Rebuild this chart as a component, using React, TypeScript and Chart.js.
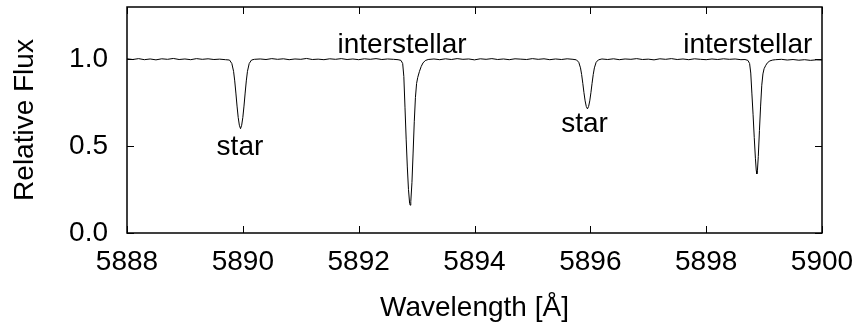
import React, { useEffect, useRef } from "react";
import { Chart, registerables } from "chart.js";

Chart.register(...registerables);

// Wavelength (Å) and relative flux
const wavelengths: number[] = [
  5888.0, 5888.1, 5888.2, 5888.3, 5888.4, 5888.5, 5888.6, 5888.7, 5888.8, 5888.9,
  5889.0, 5889.1, 5889.2, 5889.3, 5889.4, 5889.5, 5889.6, 5889.7,
  // star line 1
  5889.77, 5889.81, 5889.84, 5889.86, 5889.88, 5889.9, 5889.92, 5889.94, 5889.96,
  5889.98, 5890.0, 5890.02, 5890.04, 5890.06, 5890.08, 5890.11, 5890.15,
  5890.2, 5890.3, 5890.4, 5890.5, 5890.6, 5890.7, 5890.8, 5890.9, 5891.0,
  5891.1, 5891.2, 5891.3, 5891.4, 5891.5, 5891.6, 5891.7, 5891.8, 5891.9, 5892.0,
  5892.1, 5892.2, 5892.3, 5892.4, 5892.5, 5892.6, 5892.68,
  // interstellar line 1
  5892.73, 5892.76, 5892.78, 5892.8, 5892.82, 5892.84, 5892.86, 5892.88, 5892.89,
  5892.9, 5892.92, 5892.94, 5892.96, 5892.98, 5893.0, 5893.02, 5893.05, 5893.08,
  5893.11, 5893.15, 5893.2,
  5893.3, 5893.4, 5893.5, 5893.6, 5893.7, 5893.8, 5893.9, 5894.0, 5894.1, 5894.2,
  5894.3, 5894.4, 5894.5, 5894.6, 5894.7, 5894.8, 5894.9, 5895.0, 5895.1, 5895.2,
  5895.3, 5895.4, 5895.5, 5895.6, 5895.7,
  // star line 2
  5895.76, 5895.8, 5895.83, 5895.85, 5895.87, 5895.89, 5895.91, 5895.93, 5895.95,
  5895.97, 5895.99, 5896.01, 5896.03, 5896.05, 5896.07, 5896.1, 5896.14,
  5896.2, 5896.3, 5896.4, 5896.5, 5896.6, 5896.7, 5896.8, 5896.9, 5897.0, 5897.1,
  5897.2, 5897.3, 5897.4, 5897.5, 5897.6, 5897.7, 5897.8, 5897.9, 5898.0, 5898.1,
  5898.2, 5898.3, 5898.4, 5898.5, 5898.6, 5898.67,
  // interstellar line 2
  5898.72, 5898.75, 5898.77, 5898.79, 5898.81, 5898.83, 5898.85, 5898.865, 5898.875,
  5898.885, 5898.9, 5898.92, 5898.94, 5898.96, 5898.98, 5899.0, 5899.03, 5899.06,
  5899.1, 5899.15,
  5899.2, 5899.3, 5899.4, 5899.5, 5899.6, 5899.7, 5899.8, 5899.9, 5900.0,
];

const flux: number[] = [
  1.002, 0.998, 1.003, 0.997, 1.001, 0.996, 1.002, 0.999, 1.004, 0.998,
  1.001, 0.997, 1.003, 0.999, 1.002, 0.998, 1.0, 0.997,
  // star line 1
  0.995, 0.975, 0.93, 0.875, 0.805, 0.73, 0.665, 0.62, 0.6,
  0.62, 0.665, 0.73, 0.805, 0.875, 0.93, 0.975, 0.995,
  0.999, 1.001, 0.998, 1.003, 0.999, 1.002, 0.997, 1.001, 0.999,
  1.004, 0.998, 1.0, 0.997, 1.002, 0.999, 1.003, 0.998, 1.001, 0.997,
  1.002, 0.999, 1.003, 0.998, 1.001, 0.999, 0.997,
  // interstellar line 1
  0.993, 0.975, 0.9, 0.72, 0.54, 0.38, 0.25, 0.17, 0.16,
  0.18, 0.29, 0.46, 0.64, 0.78, 0.86, 0.895, 0.93, 0.958,
  0.978, 0.992, 0.998,
  1.001, 0.997, 1.002, 0.998, 1.003, 0.999, 1.001, 0.996, 1.002, 0.999,
  1.003, 0.998, 1.001, 0.997, 1.002, 1.0, 0.998, 1.003, 0.999, 1.002,
  0.997, 1.001, 0.998, 1.002, 0.999,
  // star line 2
  0.996, 0.982, 0.95, 0.911, 0.861, 0.807, 0.76, 0.728, 0.714,
  0.728, 0.76, 0.807, 0.861, 0.911, 0.95, 0.982, 0.996,
  1.001, 0.998, 1.002, 0.997, 1.001, 0.999, 1.003, 0.998, 1.0, 0.996,
  1.002, 0.999, 1.003, 0.998, 1.001, 0.997, 1.002, 0.999, 0.997, 1.001,
  0.998, 1.002, 0.999, 1.001, 0.997, 0.998,
  // interstellar line 2
  0.993, 0.975, 0.92, 0.8, 0.68, 0.55, 0.43, 0.36, 0.34,
  0.36, 0.44, 0.59, 0.73, 0.85, 0.915, 0.945, 0.965, 0.98,
  0.99, 0.995,
  0.997, 0.999, 0.995, 0.998, 0.994, 0.997, 0.993, 0.996, 0.995,
];

const xTicks: number[] = [5888, 5890, 5892, 5894, 5896, 5898, 5900];
const yTicks: number[] = [0.0, 0.5, 1.0];

// Line labels
const labelTexts: string[] = ["star", "interstellar", "star", "interstellar"];
const labelX: number[] = [5889.95, 5892.75, 5895.9, 5898.72];
const labelY: number[] = [0.446, 1.036, 0.58, 1.036];

const FONT = '"Liberation Sans", Arial, Helvetica, sans-serif';
const FONT_SIZE = 28;

const framePlugin = {
  id: "frameAndLabels",
  afterDraw(chart: any) {
    const { ctx, chartArea, scales } = chart;
    const xs = scales.x;
    const ys = scales.y;
    ctx.save();
    // labels
    ctx.fillStyle = "#000";
    ctx.font = `${FONT_SIZE}px ${FONT}`;
    ctx.textAlign = "center";
    ctx.textBaseline = "alphabetic";
    labelTexts.forEach((t, i) => {
      ctx.fillText(t, xs.getPixelForValue(labelX[i]), ys.getPixelForValue(labelY[i]));
    });
    // frame
    ctx.strokeStyle = "#000";
    ctx.lineWidth = 1.5;
    ctx.strokeRect(
      chartArea.left,
      chartArea.top,
      chartArea.right - chartArea.left,
      chartArea.bottom - chartArea.top
    );
    // inward ticks
    const tl = 7;
    ctx.beginPath();
    xTicks.forEach((v) => {
      const px = Math.round(xs.getPixelForValue(v)) + 0.5;
      ctx.moveTo(px, chartArea.bottom);
      ctx.lineTo(px, chartArea.bottom - tl);
      ctx.moveTo(px, chartArea.top);
      ctx.lineTo(px, chartArea.top + tl);
    });
    yTicks.forEach((v) => {
      const py = Math.round(ys.getPixelForValue(v)) + 0.5;
      ctx.moveTo(chartArea.left, py);
      ctx.lineTo(chartArea.left + tl, py);
      ctx.moveTo(chartArea.right, py);
      ctx.lineTo(chartArea.right - tl, py);
    });
    ctx.lineWidth = 1;
    ctx.stroke();
    ctx.restore();
  },
};

export default function App() {
  const canvasRef = useRef<HTMLCanvasElement | null>(null);

  useEffect(() => {
    if (!canvasRef.current) return;
    Chart.defaults.font.family = FONT;
    const chart = new Chart(canvasRef.current, {
      type: "line",
      data: {
        datasets: [
          {
            data: wavelengths.map((x, i) => ({ x, y: flux[i] })),
            borderColor: "#000",
            borderWidth: 1,
            pointRadius: 0,
            tension: 0,
            fill: false,
          },
        ],
      },
      options: {
        responsive: false,
        animation: false,
        events: [],
        layout: { padding: { top: 7, right: 42, left: 0, bottom: 0 } },
        plugins: { legend: { display: false }, tooltip: { enabled: false } },
        scales: {
          x: {
            type: "linear",
            min: 5888,
            max: 5900,
            afterBuildTicks: (scale: any) => {
              scale.ticks = xTicks.map((v) => ({ value: v }));
            },
            afterFit: (scale: any) => {
              scale.height = 94;
              scale.paddingLeft = 0;
              scale.paddingRight = 0;
            },
            ticks: {
              color: "#000",
              font: { size: FONT_SIZE, family: FONT },
              padding: 12,
              maxRotation: 0,
              autoSkip: false,
              callback: (v: any) => String(v),
            },
            grid: { display: false, drawTicks: false },
            border: { display: false },
            title: {
              display: true,
              text: "Wavelength [Å]",
              color: "#000",
              font: { size: FONT_SIZE, family: FONT },
              padding: { top: 0, bottom: 2 },
            },
          },
          y: {
            type: "linear",
            min: 0,
            max: 1.3,
            afterBuildTicks: (scale: any) => {
              scale.ticks = yTicks.map((v) => ({ value: v }));
            },
            afterFit: (scale: any) => {
              scale.width = 127;
              scale.paddingTop = 0;
              scale.paddingBottom = 0;
            },
            ticks: {
              color: "#000",
              font: { size: FONT_SIZE, family: FONT },
              padding: 19,
              autoSkip: false,
              callback: (v: any) => Number(v).toFixed(1),
            },
            grid: { display: false, drawTicks: false },
            border: { display: false },
            title: {
              display: true,
              text: "Relative Flux",
              color: "#000",
              font: { size: FONT_SIZE, family: FONT },
              padding: { top: 8, bottom: 0 },
            },
          },
        },
      },
      plugins: [framePlugin],
    });
    return () => chart.destroy();
  }, []);

  return (
    <div style={{ position: "fixed", left: 0, top: 0, width: 864, height: 327, background: "#fff" }}>
      <canvas ref={canvasRef} width={864} height={327} style={{ display: "block" }} />
    </div>
  );
}
